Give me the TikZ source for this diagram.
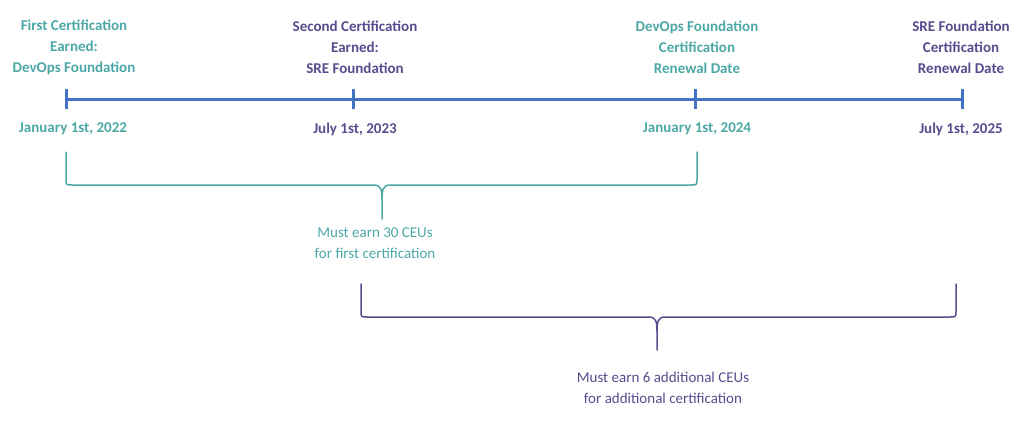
\documentclass[tikz,border=0pt]{standalone}
\usepackage{fontspec}
\setmainfont{Carlito}
\usepackage{xcolor}
\definecolor{lineblue}{RGB}{68,114,196}
\definecolor{certteal}{RGB}{76,168,166}
\definecolor{certpurple}{RGB}{86,76,142}

\begin{document}
\begin{tikzpicture}[line cap=round,line join=round,x=1pt,y=-1pt,
  lbl/.style={align=center,inner sep=0pt,font=\bfseries\fontsize{15}{21}\selectfont},
  note/.style={align=center,inner sep=0pt,font=\fontsize{15}{20.5}\selectfont},
  tline/.style={draw=lineblue,line width=3pt,line cap=butt},
  brc/.style={line width=1.5pt}]
\useasboundingbox (0,0) rectangle (1024,420);
% timeline
\coordinate (t1) at (66,99);
\coordinate (t2) at (353,99);
\coordinate (t3) at (695,99);
\coordinate (t4) at (962,99);
\draw[tline] (t1) -- (t4);
\foreach \t in {t1,t2,t3,t4}
  \draw[tline] (\t) ++(0,-10) -- ++(0,20);
% labels above
\node[lbl,text=certteal] (lbl1) at (74,47) {First Certification\\Earned:\\DevOps Foundation};
\node[lbl,text=certpurple] (lbl2) at (355,47) {Second Certification\\Earned:\\SRE Foundation};
\node[lbl,text=certteal] (lbl3) at (697,47) {DevOps Foundation\\Certification\\Renewal Date};
\node[lbl,text=certpurple] (lbl4) at (961,47) {SRE Foundation\\Certification\\Renewal Date};
% dates
\node[lbl,text=certteal] (d1) at (73,129) {January 1st, 2022};
\node[lbl,text=certpurple] (d2) at (355,129) {July 1st, 2023};
\node[lbl,text=certteal] (d3) at (697,129) {January 1st, 2024};
\node[lbl,text=certpurple] (d4) at (961,129) {July 1st, 2025};
% braces
\draw[brc,certteal] (66,152) -- (66,179) .. controls (66,185) .. (72,185) -- (374,185)
  .. controls (381,185) and (382,190) .. (382,199) -- (382,219);
\draw[brc,certteal] (697,152) -- (697,179) .. controls (697,185) .. (691,185) -- (390,185)
  .. controls (383,185) and (382,190) .. (382,199);
\draw[brc,certpurple] (361,284) -- (361,311) .. controls (361,317) .. (367,317) -- (649,317)
  .. controls (656,317) and (657,322) .. (657,331) -- (657,350);
\draw[brc,certpurple] (956,284) -- (956,311) .. controls (956,317) .. (950,317) -- (665,317)
  .. controls (658,317) and (657,322) .. (657,331);
% notes
\node[note,text=certteal] (n1) at (375,243) {Must earn 30 CEUs\\for first certification};
\node[note,text=certpurple] (n2) at (663,388) {Must earn 6 additional CEUs\\for additional certification};
\end{tikzpicture}
\end{document}
